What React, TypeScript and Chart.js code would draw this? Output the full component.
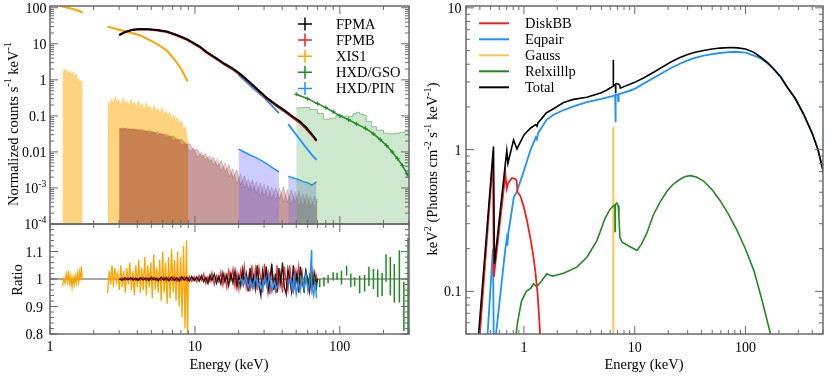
import { useEffect, useRef } from 'react';
import { Chart, registerables } from 'chart.js';

Chart.register(...registerables);

// ================= LEFT: counts spectrum (top panel) =================
const xis1E_lo = [1.0, 1.1, 1.2, 1.3, 1.4, 1.5, 1.6, 1.68];
const xis1Rate_lo = [125, 118, 110, 102, 95, 88, 80, 73];
const xis1E_hi = [2.5, 3.0, 3.5, 4.17, 5.0, 5.5, 6.38, 7.0, 7.5, 8.1, 8.5, 8.9];
const xis1Rate_hi = [30, 24.7, 21, 17.3, 12, 9.8, 6.6, 4.3, 3.0, 1.9, 1.3, 0.9];

const fpmE = [3, 3.3, 3.7, 4.2, 4.8, 5.5, 6.4, 7.5, 8.8, 10.8, 12, 14, 16, 18.3, 21, 24, 27, 31, 36, 41, 47, 53, 59, 65, 69];
const fpmaRate = [17.8, 21.5, 24.5, 25.7, 25.5, 24, 22, 17.5, 13.5, 8.4, 6.0, 4.0, 2.8, 2.05, 1.35, 0.85, 0.55, 0.33, 0.21, 0.147, 0.098, 0.07, 0.046, 0.029, 0.021];
const fpmbRate = [17.2, 21, 24, 25.2, 25, 23.5, 21.2, 17, 12.9, 8.0, 5.7, 3.8, 2.65, 1.93, 1.27, 0.8, 0.52, 0.31, 0.196, 0.136, 0.09, 0.064, 0.042, 0.027, 0.02];

const pinE_lo = [20, 25, 30, 38];
const pinRate_lo = [1.38, 0.6, 0.32, 0.119];
const pinE_hi = [44, 50, 57, 65, 69];
const pinRate_hi = [0.059, 0.03, 0.015, 0.0078, 0.006];

const gsoE = [50, 60, 70, 80, 90, 100, 115, 130, 150, 170, 190, 210, 230, 250, 270, 290, 300];
const gsoRate = [0.4, 0.3, 0.22, 0.17, 0.13, 0.1, 0.078, 0.06, 0.045, 0.032, 0.022, 0.015, 0.01, 0.0065, 0.0042, 0.0025, 0.002];

// backgrounds
const xisBgE_lo = [1.22, 1.26, 1.3, 1.34, 1.38, 1.42, 1.46, 1.5, 1.54, 1.58, 1.62, 1.68];
const xisBg_lo = [2.1, 1.7, 1.9, 1.6, 1.7, 1.5, 1.6, 1.3, 1.4, 1.1, 0.95, 0.9];
const xisBgE_hi = [2.5, 2.58, 2.66, 2.74, 2.82, 2.91, 3.0, 3.09, 3.19, 3.29, 3.39, 3.5, 3.61, 3.72, 3.84, 3.96, 4.08, 4.21, 4.34, 4.48, 4.62, 4.76, 4.91, 5.07, 5.23, 5.39, 5.56, 5.74, 5.92, 6.1, 6.3, 6.5, 6.7, 6.91, 7.13, 7.35, 7.58, 7.82, 8.07, 8.32, 8.58, 8.85, 9.0];
const xisBg_hi = [0.27, 0.2, 0.3, 0.22, 0.35, 0.24, 0.28, 0.2, 0.32, 0.22, 0.26, 0.19, 0.3, 0.21, 0.24, 0.17, 0.27, 0.18, 0.22, 0.15, 0.24, 0.16, 0.19, 0.13, 0.2, 0.14, 0.16, 0.12, 0.17, 0.11, 0.14, 0.1, 0.13, 0.085, 0.11, 0.08, 0.09, 0.06, 0.075, 0.045, 0.05, 0.025, 0.015];

const fpmBgE = [3.0, 3.2, 3.4, 3.6, 3.8, 4.0, 4.3, 4.6, 4.9, 5.2, 5.5, 5.9, 6.3, 6.7, 7.1, 7.6, 8.1, 8.6, 9.2, 9.8, 10.4, 11.1, 11.8, 12.6, 13.4, 14.3, 15.2, 16.2, 17.2, 18.3, 19.5, 20.7, 22.0, 23.4, 24.9, 26.5, 28.2, 30.0, 31.9, 33.9, 36.1, 38.4, 40.8, 43.4, 46.2, 49.1, 52.2, 55.5, 59.0, 62.8, 66.8, 70.0];
const fpmaBg = [0.045, 0.043, 0.046, 0.041, 0.044, 0.04, 0.042, 0.037, 0.039, 0.034, 0.036, 0.03, 0.032, 0.026, 0.028, 0.021, 0.023, 0.016, 0.017, 0.011, 0.012, 0.0075, 0.009, 0.0055, 0.0072, 0.004, 0.0058, 0.0028, 0.0045, 0.0019, 0.0032, 0.0012, 0.0022, 0.0009, 0.0017, 0.0007, 0.0014, 0.0006, 0.0012, 0.0005, 0.001, 0.0005, 0.0011, 0.0004, 0.0009, 0.0004, 0.0008, 0.0003, 0.0007, 0.0003, 0.0006, 0.0004];
const fpmbBg = [0.042, 0.047, 0.04, 0.045, 0.039, 0.043, 0.036, 0.04, 0.033, 0.037, 0.029, 0.033, 0.025, 0.029, 0.02, 0.024, 0.015, 0.019, 0.01, 0.013, 0.007, 0.01, 0.006, 0.008, 0.0045, 0.0065, 0.003, 0.005, 0.002, 0.0035, 0.0013, 0.0025, 0.001, 0.0018, 0.0008, 0.0015, 0.0006, 0.0013, 0.0005, 0.0011, 0.00045, 0.001, 0.0004, 0.0009, 0.00035, 0.0008, 0.0003, 0.0007, 0.0003, 0.0006, 0.00025, 0.0005];

const pinBgE_lo = [20, 22, 24, 26, 28, 31, 34, 38];
const pinBg_lo = [0.0119, 0.0098, 0.0082, 0.0072, 0.0061, 0.0048, 0.0037, 0.0028];
const pinBgE_hi = [44, 48, 52, 56, 60, 64, 66, 69];
const pinBg_hi = [0.0021, 0.0019, 0.0017, 0.0015, 0.0014, 0.0012, 0.0013, 0.00148];

const gsoBgE = [50, 55, 62, 70, 77, 85, 94, 105, 115, 123, 130, 137, 145, 152, 165, 179, 200, 220, 240, 260, 280, 300];
const gsoBg = [0.164, 0.168, 0.17, 0.15, 0.118, 0.081, 0.086, 0.105, 0.098, 0.095, 0.115, 0.125, 0.112, 0.105, 0.07, 0.05, 0.04, 0.033, 0.032, 0.033, 0.035, 0.037];

// ================= LEFT: ratio panel =================
const xisRatioE_lo = [1.22, 1.245, 1.27, 1.295, 1.32, 1.345, 1.37, 1.395, 1.42, 1.445, 1.47, 1.495, 1.52, 1.545, 1.57, 1.595, 1.62, 1.645, 1.67];
const xisRatio_lo = [0.975, 1.0, 0.985, 1.02, 0.99, 1.03, 0.975, 1.01, 0.97, 1.005, 0.98, 1.01, 0.985, 1.02, 0.99, 1.025, 0.995, 1.045, 1.0];
const xisRatioE_hi = [2.5, 2.56, 2.62, 2.68, 2.74, 2.8, 2.87, 2.94, 3.01, 3.08, 3.15, 3.23, 3.31, 3.39, 3.47, 3.55, 3.64, 3.73, 3.82, 3.91, 4.0, 4.1, 4.2, 4.3, 4.4, 4.51, 4.62, 4.73, 4.84, 4.96, 5.08, 5.2, 5.32, 5.45, 5.58, 5.71, 5.85, 5.99, 6.13, 6.28, 6.43, 6.58, 6.74, 6.9, 7.07, 7.24, 7.41, 7.59, 7.77, 7.96, 8.15, 8.35, 8.55, 8.75, 8.9, 9.0];
const xisRatio_hi = [0.95, 1.03, 0.98, 1.05, 0.97, 1.04, 0.99, 1.02, 0.96, 1.05, 0.97, 1.03, 0.95, 1.04, 0.98, 1.06, 0.96, 1.03, 0.94, 1.05, 0.97, 1.07, 0.95, 1.04, 0.96, 1.08, 0.94, 1.05, 0.97, 1.06, 0.93, 1.09, 0.96, 1.04, 0.95, 1.07, 0.92, 1.1, 0.95, 1.06, 0.91, 1.08, 0.93, 1.11, 0.95, 1.07, 0.92, 1.1, 0.9, 1.08, 0.86, 1.12, 0.82, 1.14, 0.78, 1.0];

const fpmRatioE = [3.0, 3.15, 3.3, 3.45, 3.6, 3.75, 3.9, 4.05, 4.2, 4.4, 4.6, 4.8, 5.0, 5.2, 5.4, 5.6, 5.85, 6.1, 6.35, 6.6, 6.9, 7.2, 7.5, 7.8, 8.1, 8.45, 8.8, 9.15, 9.5, 9.9, 10.3, 10.7, 11.1, 11.5, 11.9, 12.3, 12.7, 13.1, 13.6, 14.1, 14.6, 15.1, 15.6, 16.1, 16.6, 17.1, 17.7, 18.3, 18.9, 19.5, 20.1, 20.7, 21.3, 21.9, 22.6, 23.3, 24.0, 24.7, 25.4, 26.1, 26.9, 27.7, 28.5, 29.3, 30.2, 31.1, 32.0, 32.9, 33.9, 34.9, 35.9, 36.9, 38.0, 39.1, 40.2, 41.4, 42.6, 43.8, 45.1, 46.4, 47.7, 49.1, 50.5, 52.0, 53.5, 55.0, 56.6, 58.2, 59.9, 61.6, 63.4, 65.2, 67.1, 69.0, 70.0];
const fpmaRatio = [1.0, 0.996, 1.004, 0.997, 1.005, 0.996, 1.003, 0.995, 1.005, 0.997, 1.004, 0.995, 1.006, 0.997, 1.003, 0.994, 1.006, 0.996, 1.005, 0.994, 1.007, 0.995, 1.004, 0.993, 1.008, 0.996, 1.006, 0.992, 1.009, 0.994,
  1.008, 0.992, 1.012, 0.99, 1.006, 0.984, 1.014, 0.995, 1.018, 0.985,
  1.01, 0.982, 1.022, 0.99, 1.015, 0.976, 1.02, 0.985, 1.03, 0.97,
  1.012, 0.975, 1.035, 0.99, 1.02, 0.955, 1.04, 0.98, 1.01, 0.965,
  1.05, 0.975, 0.94, 1.03, 0.99, 1.045, 0.955, 1.0, 1.055, 0.96,
  1.02, 0.95, 1.04, 0.985, 1.06, 0.97, 0.945, 1.035, 1.0, 0.955,
  1.05, 0.975, 1.02, 0.95, 1.045, 0.99, 0.96, 1.03, 1.0, 0.955,
  1.04, 0.975, 1.02, 0.97, 1.0];
const fpmbRatio = [0.998, 1.005, 0.996, 1.004, 0.997, 1.006, 0.995, 1.004, 0.996, 1.006, 0.995, 1.005, 0.996, 1.007, 0.994, 1.004, 0.995, 1.007, 0.993, 1.006, 0.994, 1.008, 0.992, 1.006, 0.995, 1.009, 0.993, 1.01, 0.991, 1.008,
  0.99, 1.013, 0.995, 1.018, 0.984, 1.008, 0.99, 1.022, 0.98, 1.012,
  0.99, 1.025, 0.978, 1.015, 0.97, 1.03, 0.995, 1.035, 0.975, 1.02,
  0.965, 1.03, 0.99, 1.045, 0.97, 1.01, 0.955, 1.05, 0.985, 1.035,
  0.96, 1.04, 1.0, 0.95, 1.055, 0.98, 1.02, 0.945, 1.04, 0.99,
  0.96, 1.05, 0.975, 1.02, 0.95, 1.045, 0.99, 0.96, 1.05, 0.98,
  0.955, 1.03, 0.99, 1.045, 0.965, 1.02, 0.95, 1.035, 0.975, 1.01,
  0.96, 1.03, 0.985, 1.01, 0.99];

const pinRatioE_lo = [20, 20.8, 21.6, 22.4, 23.3, 24.2, 25.1, 26.1, 27.1, 28.1, 29.2, 30.3, 31.5, 32.7, 34.0, 35.3, 36.6, 38.0];
const pinRatio_lo = [0.99, 1.0, 0.975, 1.01, 0.97, 0.995, 0.965, 1.01, 0.975, 0.99, 0.96, 1.005, 0.97, 1.015, 0.955, 0.99, 0.965, 0.985];
const pinRatioE_hi = [44, 45.5, 47, 48.5, 50, 51.6, 53.2, 54.9, 56.6, 58.4, 60.2, 62.1, 63.8, 64.0, 65.9, 67.8, 69.0];
const pinRatio_hi = [0.975, 1.0, 0.96, 1.01, 0.945, 0.99, 0.955, 1.005, 0.965, 1.02, 0.955, 0.99, 1.105, 0.975, 0.94, 0.99, 0.93];

const gsoRatioE = [52, 57, 62, 67, 72.6, 77.7, 83.0, 89.9, 95.6, 102.6, 111.3, 119.0, 126.4, 137.0, 148.2, 158.7, 170.6, 182.4, 195.6, 208.3, 223.0, 237.6, 257.5, 276.6, 295.5];
const gsoRatio = [1.0, 0.995, 1.01, 0.995, 0.985, 0.99, 1.0, 1.01, 1.01, 1.005, 1.03, 0.995, 0.99, 0.98, 0.985, 1.01, 1.0, 0.985, 0.98, 1.04, 1.01, 0.985, 1.01, 0.9, 0.9];
const gsoRatioErr = [0.01, 0.012, 0.012, 0.014, 0.015, 0.016, 0.015, 0.015, 0.013, 0.025, 0.018, 0.025, 0.016, 0.033, 0.03, 0.035, 0.036, 0.05, 0.042, 0.05, 0.07, 0.07, 0.095, 0.09, 0.25];

// ================= RIGHT: unfolded model components =================
const diskbbE = [0.40, 0.525, 0.535, 0.68, 0.70, 0.72, 0.78, 0.84, 0.86, 0.875, 0.93, 1.0, 1.07, 1.14, 1.2, 1.265, 1.33, 1.40];
const diskbbV = [0.05, 0.86, 0.126, 0.67, 0.53, 0.58, 0.63, 0.62, 0.6, 0.5, 0.47, 0.39, 0.31, 0.24, 0.19, 0.14, 0.095, 0.05];

const eqpairE = [0.47, 0.525, 0.537, 0.56, 0.68, 0.70, 0.71, 0.72, 0.81, 0.86, 1.0, 1.15, 1.28, 1.31, 1.34, 1.6, 1.85, 2.28, 2.8, 3.7, 5.0, 6.3, 6.65, 6.7, 6.75, 7.05, 7.1, 7.15, 7.5, 8.0, 10, 12, 14.8, 18, 21, 25, 29.6, 35, 41.8, 50, 59, 70, 81, 100, 119, 137, 158, 180, 208, 238, 280, 334, 400, 450, 510];
const eqpairV = [0.05, 0.2, 0.03, 0.05, 0.2, 0.235, 0.21, 0.25, 0.46, 0.5, 0.71, 1.0, 1.22, 1.18, 1.3, 1.62, 1.76, 1.9, 2.02, 2.16, 2.28, 2.38, 2.42, 1.56, 2.43, 2.45, 2.2, 2.46, 2.48, 2.52, 2.68, 2.92, 3.2, 3.5, 3.75, 4.0, 4.24, 4.43, 4.6, 4.72, 4.8, 4.87, 4.9, 4.83, 4.6, 4.4, 4.06, 3.68, 3.24, 2.75, 2.3, 1.78, 1.3, 1.0, 0.67];

const gaussE = [6.38, 6.4, 6.42];
const gaussV = [0.001, 1.45, 0.001];

const relxillE = [0.85, 0.88, 0.95, 1.05, 1.15, 1.22, 1.3, 1.4, 1.61, 1.8, 1.95, 2.28, 3.0, 3.7, 4.56, 5.42, 6.0, 6.5, 6.62, 6.65, 6.68, 6.9, 7.1, 7.2, 7.35, 7.7, 8.9, 10.5, 11.5, 12.8, 14.8, 17, 19.6, 22, 25.8, 28.5, 31.8, 36, 41.8, 50, 59, 70, 84, 100, 119, 140, 168];
const relxillV = [0.05, 0.062, 0.085, 0.1, 0.105, 0.113, 0.108, 0.115, 0.133, 0.128, 0.13, 0.134, 0.148, 0.174, 0.228, 0.33, 0.38, 0.405, 0.41, 0.265, 0.41, 0.42, 0.4, 0.33, 0.24, 0.222, 0.208, 0.194, 0.215, 0.255, 0.35, 0.43, 0.51, 0.565, 0.62, 0.645, 0.655, 0.64, 0.6, 0.52, 0.436, 0.35, 0.268, 0.198, 0.14, 0.088, 0.05];

const totalE = [0.39, 0.531, 0.542, 0.70, 0.717, 0.806, 0.865, 1.0, 1.15, 1.28, 1.31, 1.34, 1.6, 1.85, 2.28, 2.8, 3.7, 5.0, 5.6, 6.0, 6.3, 6.38, 6.40, 6.42, 6.6, 6.7, 6.72, 6.75, 6.9, 7.1, 7.3, 7.4, 7.6, 8.0, 10, 12, 14.8, 18, 21, 25, 29.6, 35, 41.8, 50, 59, 73, 85, 100, 119, 137, 158, 180, 208, 238, 280, 334, 400, 450, 510];
const totalV = [0.05, 1.05, 0.156, 0.98, 0.8, 1.17, 1.01, 1.27, 1.42, 1.5, 1.46, 1.54, 1.82, 1.94, 2.15, 2.26, 2.34, 2.52, 2.63, 2.72, 2.78, 2.8, 4.3, 2.82, 2.86, 2.88, 2.5, 2.9, 2.92, 2.9, 2.85, 2.72, 2.73, 2.78, 2.98, 3.2, 3.51, 3.85, 4.13, 4.42, 4.66, 4.86, 5.0, 5.12, 5.2, 5.25, 5.22, 5.13, 4.85, 4.48, 4.1, 3.7, 3.25, 2.75, 2.3, 1.78, 1.3, 1.0, 0.67];

// legends
const leftLegend = ['FPMA', 'FPMB', 'XIS1', 'HXD/GSO', 'HXD/PIN'];
const rightLegend = ['DiskBB', 'Eqpair', 'Gauss', 'Relxilllp', 'Total'];

// ================= styling =================
const FONT = '"Liberation Serif", "Times New Roman", Times, serif';
const AXIS = '#6a6a6a';
const C_BLACK = '#000000';
const C_RED = '#f21f1f';
const C_ORANGE = '#ffa500';
const C_GREEN = '#1f8a1f';
const C_BLUE = '#1e93ff';
const C_GAUSS = '#ffc24f';

type Piece = { t: string; sup?: boolean };
const T = (t: string): Piece[] => [{ t }];
const P10 = (e: string): Piece[] => [{ t: '10' }, { t: e, sup: true }];

function richWidth(ctx: CanvasRenderingContext2D, p: Piece[], size: number) {
  let w = 0;
  for (const s of p) {
    ctx.font = `${s.sup ? size * 0.7 : size}px ${FONT}`;
    w += ctx.measureText(s.t).width;
  }
  return w;
}
function drawRich(ctx: CanvasRenderingContext2D, p: Piece[], x: number, y: number, size: number, align: string) {
  const w = richWidth(ctx, p, size);
  let cx = align === 'right' ? x - w : align === 'center' ? x - w / 2 : x;
  ctx.textAlign = 'left';
  ctx.textBaseline = 'alphabetic';
  for (const s of p) {
    const sz = s.sup ? size * 0.7 : size;
    ctx.font = `${sz}px ${FONT}`;
    ctx.fillText(s.t, cx, s.sup ? y - size * 0.42 : y);
    cx += ctx.measureText(s.t).width;
  }
}
function drawRichRot(ctx: CanvasRenderingContext2D, p: Piece[], x: number, y: number, size: number) {
  ctx.save();
  ctx.translate(x, y);
  ctx.rotate(-Math.PI / 2);
  drawRich(ctx, p, 0, 0, size, 'center');
  ctx.restore();
}

function logMajor(lo: number, hi: number) {
  const out: number[] = [];
  for (let e = Math.ceil(Math.log10(lo) - 1e-9); Math.pow(10, e) <= hi * 1.0001; e++) out.push(Math.pow(10, e));
  return out;
}
function logMinor(lo: number, hi: number) {
  const out: number[] = [];
  for (let e = Math.floor(Math.log10(lo)) - 1; e <= Math.ceil(Math.log10(hi)); e++) {
    for (let k = 2; k <= 9; k++) {
      const v = k * Math.pow(10, e);
      if (v >= lo * 0.9999 && v <= hi * 1.0001) out.push(v);
    }
  }
  return out;
}
function linTicks(lo: number, hi: number, step: number) {
  const out: number[] = [];
  const n = Math.round((hi - lo) / step);
  for (let i = 0; i <= n; i++) out.push(lo + i * step);
  return out;
}

const pts = (xs: number[], ys: number[]) => xs.map((x, i) => ({ x, y: ys[i] }));

function lineDs(data: any[], color: string, width: number, extra: any = {}) {
  return { data, borderColor: color, backgroundColor: color, borderWidth: width, pointRadius: 0, fill: false, tension: 0, ...extra };
}
function fillDs(data: any[], fillColor: string, border: string, width: number, extra: any = {}) {
  return { data, borderColor: border, backgroundColor: fillColor, borderWidth: width, pointRadius: 0, fill: 'start', tension: 0, ...extra };
}

interface Panel {
  id: string;
  xMajor: number[]; xMinor: number[]; yMajor: number[]; yMinor: number[];
  yLabels: { v: number; p: Piece[] }[]; yLabelRight: number;
  xLabels: { v: number; p: Piece[] }[]; xLabelBase: number;
  titles: { p: Piece[]; x: number; y: number; rot?: boolean }[];
  extra?: (ctx: CanvasRenderingContext2D) => void;
}

function panelPlugin(panel: Panel) {
  return {
    id: panel.id,
    afterDraw(chart: any) {
      const { ctx, chartArea: a } = chart;
      const xs = chart.scales.x;
      const ys = chart.scales.y;
      ctx.save();
      ctx.strokeStyle = AXIS;
      ctx.lineWidth = 1;
      const seg = (x1: number, y1: number, x2: number, y2: number) => {
        ctx.beginPath(); ctx.moveTo(x1, y1); ctx.lineTo(x2, y2); ctx.stroke();
      };
      const xt = (v: number, len: number) => {
        const p = xs.getPixelForValue(v);
        seg(p, a.bottom, p, a.bottom - len); seg(p, a.top, p, a.top + len);
      };
      const yt = (v: number, len: number) => {
        const p = ys.getPixelForValue(v);
        seg(a.left, p, a.left + len, p); seg(a.right, p, a.right - len, p);
      };
      panel.xMinor.forEach((v) => xt(v, 4));
      panel.xMajor.forEach((v) => xt(v, 8));
      panel.yMinor.forEach((v) => yt(v, 4));
      panel.yMajor.forEach((v) => yt(v, 8));
      ctx.lineWidth = 1.5;
      ctx.strokeRect(a.left, a.top, a.right - a.left, a.bottom - a.top);
      ctx.fillStyle = '#000';
      panel.yLabels.forEach((l) => drawRich(ctx, l.p, panel.yLabelRight, ys.getPixelForValue(l.v) + 5, 14, 'right'));
      panel.xLabels.forEach((l) => drawRich(ctx, l.p, xs.getPixelForValue(l.v), panel.xLabelBase, 14, 'center'));
      panel.titles.forEach((t) => {
        if (t.rot) drawRichRot(ctx, t.p, t.x, t.y, 14.5);
        else drawRich(ctx, t.p, t.x, t.y, 14.5, 'center');
      });
      if (panel.extra) panel.extra(ctx);
      ctx.restore();
    },
  };
}

function baseOptions(pad: any, xr: number[], yr: number[], ylog: boolean) {
  return {
    responsive: false,
    animation: false,
    devicePixelRatio: 1,
    events: [],
    layout: { padding: pad },
    plugins: { legend: { display: false }, tooltip: { enabled: false } },
    scales: {
      x: { type: 'logarithmic', min: xr[0], max: xr[1], display: false },
      y: { type: ylog ? 'logarithmic' : 'linear', min: yr[0], max: yr[1], display: false },
    },
  };
}

const LEFT = 50, RIGHT_L = 409, TOP = 6, MID = 224, BOT = 334;
const W = 830, H = 386;

function topConfig(): any {
  const legendColors = [C_BLACK, C_RED, C_ORANGE, C_GREEN, C_BLUE];
  const panel: Panel = {
    id: 'topPanel',
    xMajor: logMajor(1, 300), xMinor: logMinor(1, 300),
    yMajor: logMajor(1e-4, 112), yMinor: logMinor(1e-4, 112),
    yLabels: [
      { v: 100, p: T('100') }, { v: 10, p: T('10') }, { v: 1, p: T('1') }, { v: 0.1, p: T('0.1') },
      { v: 0.01, p: T('0.01') }, { v: 1e-3, p: P10('-3') }, { v: 1e-4, p: P10('-4') },
    ],
    yLabelRight: 46.5,
    xLabels: [], xLabelBase: 0,
    titles: [{ p: [{ t: 'Normalized counts s' }, { t: '-1', sup: true }, { t: ' keV' }, { t: '-1', sup: true }], x: 17.5, y: 124, rot: true }],
    extra: (ctx) => {
      leftLegend.forEach((name, i) => {
        const y = 24 + i * 16.1;
        ctx.strokeStyle = legendColors[i];
        ctx.lineWidth = 1.5;
        ctx.beginPath(); ctx.moveTo(298, y); ctx.lineTo(312, y); ctx.moveTo(305, y - 6.5); ctx.lineTo(305, y + 6.5); ctx.stroke();
        ctx.fillStyle = '#000';
        drawRich(ctx, T(name), 336, y + 5, 14.5, 'left');
      });
    },
  };
  return {
    type: 'line',
    data: {
      datasets: [
        lineDs(pts(fpmE, fpmaRate), C_BLACK, 2),
        lineDs(pts(fpmE, fpmbRate), C_RED, 2),
        lineDs(pts(xis1E_lo, xis1Rate_lo), C_ORANGE, 2),
        lineDs(pts(xis1E_hi, xis1Rate_hi), C_ORANGE, 2),
        lineDs(pts(pinE_lo, pinRate_lo), C_BLUE, 1.8),
        lineDs(pts(pinE_hi, pinRate_hi), C_BLUE, 1.8),
        lineDs(pts(gsoE, gsoRate), C_GREEN, 1.5, { pointRadius: 2.2, pointStyle: 'cross', pointBorderColor: C_GREEN, pointBorderWidth: 1 }),
        fillDs(pts(gsoBgE, gsoBg), 'rgba(70,170,70,0.27)', 'rgba(90,160,90,0.6)', 1, { stepped: 'after' }),
        fillDs(pts(pinBgE_lo, pinBg_lo), 'rgba(110,110,255,0.35)', C_BLUE, 1.5),
        fillDs(pts(pinBgE_hi, pinBg_hi), 'rgba(110,120,230,0.35)', C_BLUE, 1.5),
        fillDs(pts(fpmBgE, fpmaBg), 'rgba(40,0,0,0.22)', 'rgba(40,0,0,0.2)', 0.8),
        fillDs(pts(fpmBgE, fpmbBg), 'rgba(220,30,30,0.25)', 'rgba(220,30,30,0.25)', 0.8),
        fillDs(pts(xisBgE_lo, xisBg_lo), 'rgba(255,170,0,0.5)', 'rgba(255,170,0,0.3)', 0.8, { stepped: 'after' }),
        fillDs(pts(xisBgE_hi, xisBg_hi), 'rgba(255,170,0,0.5)', 'rgba(255,170,0,0.3)', 0.8),
      ],
    },
    options: baseOptions({ left: LEFT, top: TOP, right: W - RIGHT_L, bottom: H - MID }, [1, 300], [1e-4, 112], true),
    plugins: [panelPlugin(panel)],
  };
}

function ratioConfig(): any {
  const gsoBars: any[] = [];
  gsoRatioE.forEach((e, i) => {
    const r = gsoRatio[i];
    const d = gsoRatioErr[i];
    gsoBars.push({ x: e, y: r - d }, { x: e, y: r + d }, { x: e, y: null });
    gsoBars.push({ x: e / 1.012, y: r }, { x: e * 1.012, y: r }, { x: e, y: null });
  });
  const panel: Panel = {
    id: 'ratioPanel',
    xMajor: logMajor(1, 300), xMinor: logMinor(1, 300),
    yMajor: linTicks(0.8, 1.2, 0.1), yMinor: linTicks(0.8, 1.2, 0.02),
    yLabels: [{ v: 1.1, p: T('1.1') }, { v: 1, p: T('1') }, { v: 0.9, p: T('0.9') }, { v: 0.8, p: T('0.8') }],
    yLabelRight: 43,
    xLabels: [{ v: 1, p: T('1') }, { v: 10, p: T('10') }, { v: 100, p: T('100') }],
    xLabelBase: 351,
    titles: [
      { p: T('Ratio'), x: 21.5, y: 280, rot: true },
      { p: T('Energy (keV)'), x: 229, y: 369 },
    ],
  };
  return {
    type: 'line',
    data: {
      datasets: [
        lineDs(gsoBars, C_GREEN, 1.5),
        lineDs(pts(pinRatioE_lo, pinRatio_lo), C_BLUE, 1.4),
        lineDs(pts(pinRatioE_hi, pinRatio_hi), C_BLUE, 1.4),
        lineDs(pts(fpmRatioE, fpmaRatio), 'rgba(0,0,0,0.85)', 1.4),
        lineDs(pts(fpmRatioE, fpmbRatio), 'rgba(240,20,20,0.85)', 1.4),
        lineDs(pts(xisRatioE_lo, xisRatio_lo), C_ORANGE, 1.3),
        lineDs(pts(xisRatioE_hi, xisRatio_hi), C_ORANGE, 1.3),
        lineDs([{ x: 1, y: 1 }, { x: 300, y: 1 }], '#8a8a8a', 1.5),
      ],
    },
    options: baseOptions({ left: LEFT, top: MID, right: W - RIGHT_L, bottom: H - BOT }, [1, 300], [0.8, 1.2], false),
    plugins: [panelPlugin(panel)],
  };
}

function modelConfig(): any {
  const colors = [C_RED, C_BLUE, C_GAUSS, C_GREEN, C_BLACK];
  const panel: Panel = {
    id: 'modelPanel',
    xMajor: logMajor(0.3, 500), xMinor: logMinor(0.3, 500),
    yMajor: logMajor(0.05, 10.3), yMinor: logMinor(0.05, 10.3),
    yLabels: [{ v: 10, p: T('10') }, { v: 1, p: T('1') }, { v: 0.1, p: T('0.1') }],
    yLabelRight: 461.5,
    xLabels: [{ v: 1, p: T('1') }, { v: 10, p: T('10') }, { v: 100, p: T('100') }],
    xLabelBase: 351.5,
    titles: [
      { p: [{ t: 'keV' }, { t: '2', sup: true }, { t: ' (Photons cm' }, { t: '-2', sup: true }, { t: ' s' }, { t: '-1', sup: true }, { t: ' keV' }, { t: '-1', sup: true }, { t: ')' }], x: 437, y: 169, rot: true },
      { p: T('Energy (keV)'), x: 644, y: 369 },
    ],
    extra: (ctx) => {
      rightLegend.forEach((name, i) => {
        const y = 23.3 + i * 16;
        ctx.strokeStyle = colors[i];
        ctx.lineWidth = 2;
        ctx.beginPath(); ctx.moveTo(479, y); ctx.lineTo(509, y); ctx.stroke();
        ctx.fillStyle = '#000';
        drawRich(ctx, T(name), 525, y + 5, 14.5, 'left');
      });
    },
  };
  return {
    type: 'line',
    data: {
      datasets: [
        lineDs(pts(totalE, totalV), C_BLACK, 1.6),
        lineDs(pts(diskbbE, diskbbV), C_RED, 1.8),
        lineDs(pts(eqpairE, eqpairV), C_BLUE, 1.8),
        lineDs(pts(relxillE, relxillV), C_GREEN, 1.6),
        lineDs(pts(gaussE, gaussV), C_GAUSS, 2),
      ],
    },
    options: baseOptions({ left: 466, top: TOP, right: W - 823, bottom: H - BOT }, [0.3, 500], [0.05, 10.3], true),
    plugins: [panelPlugin(panel)],
  };
}

export default function App() {
  const r1 = useRef<HTMLCanvasElement>(null);
  const r2 = useRef<HTMLCanvasElement>(null);
  const r3 = useRef<HTMLCanvasElement>(null);
  useEffect(() => {
    const charts = [
      new Chart(r1.current as HTMLCanvasElement, topConfig()),
      new Chart(r2.current as HTMLCanvasElement, ratioConfig()),
      new Chart(r3.current as HTMLCanvasElement, modelConfig()),
    ];
    return () => charts.forEach((c) => c.destroy());
  }, []);
  const cs: any = { position: 'absolute', left: 0, top: 0, width: W, height: H };
  return (
    <div style={{ position: 'fixed', left: 0, top: 0, width: W, height: H, background: '#ffffff' }}>
      <canvas ref={r1} width={W} height={H} style={cs} />
      <canvas ref={r2} width={W} height={H} style={cs} />
      <canvas ref={r3} width={W} height={H} style={cs} />
    </div>
  );
}
